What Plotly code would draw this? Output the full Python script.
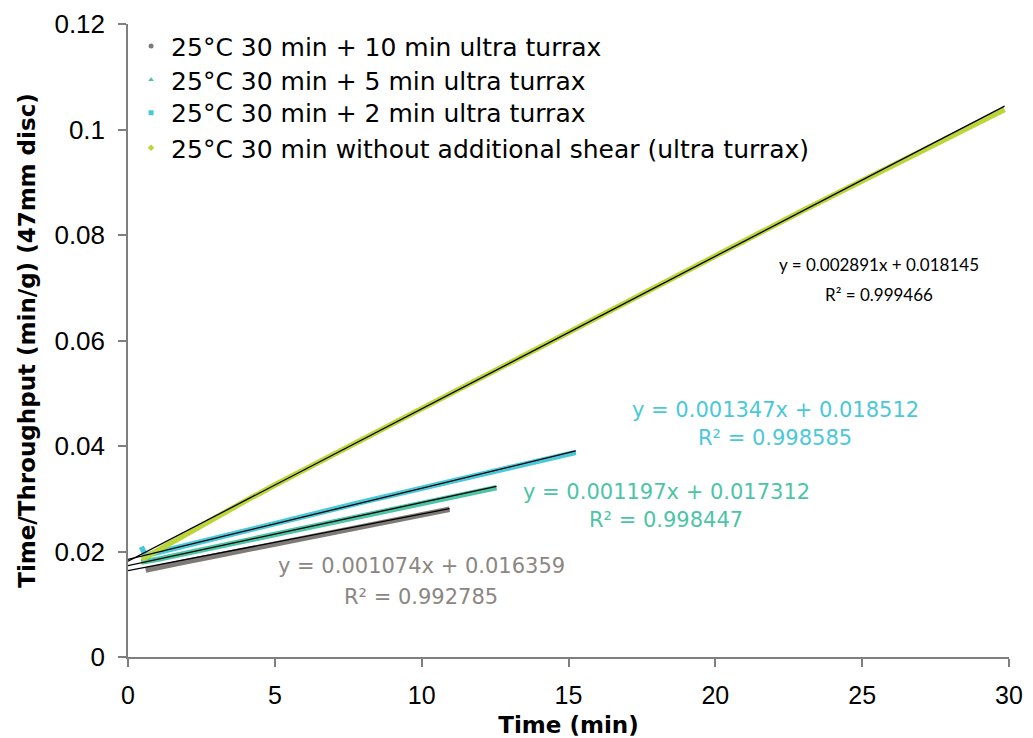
import plotly.graph_objects as go

# ---- data ----
names = [
    "25°C 30 min + 10 min ultra turrax",
    "25°C 30 min + 5 min ultra turrax",
    "25°C 30 min + 2 min ultra turrax",
    "25°C 30 min without additional shear (ultra turrax)",
]

x_10min = [0.6, 1, 2, 3, 4, 5, 6, 7, 8, 9, 10, 10.95]
y_10min = [0.0165, 0.0170, 0.0181, 0.0192, 0.0203, 0.0214, 0.0225, 0.0236, 0.0247, 0.0258, 0.0269, 0.0280]

x_5min = [0.45, 1, 2, 3, 4, 5, 6, 7, 8, 9, 10, 11, 12, 12.55]
y_5min = [0.0180, 0.0185, 0.0197, 0.0209, 0.0221, 0.0233, 0.0245, 0.0257, 0.0269, 0.0281, 0.0293, 0.0304, 0.0316, 0.0321]

x_2min = [0.45, 0.6, 1, 2, 3, 4, 5, 6, 7, 8, 9, 10, 11, 12, 13, 14, 15.25]
y_2min = [0.0209, 0.0193, 0.0198, 0.0212, 0.0226, 0.0240, 0.0254, 0.0267, 0.0280, 0.0294, 0.0307, 0.0320, 0.0334, 0.0347, 0.0360, 0.0374, 0.0388]

x_noshear = [0.47, 1, 2, 3, 4, 5, 6, 7, 8, 9, 10, 11, 12, 13, 14, 15, 16, 17, 18, 19, 20,
             21, 22, 23, 24, 25, 26, 27, 28, 29, 29.85]
y_noshear = [0.0185, 0.0202, 0.0234, 0.0265, 0.0296, 0.0326, 0.0355, 0.0385, 0.0414, 0.0443, 0.0472,
             0.0501, 0.0530, 0.0559, 0.0588, 0.0617, 0.0646, 0.0675, 0.0703, 0.0732, 0.0761,
             0.0790, 0.0818, 0.0847, 0.0875, 0.0903, 0.0931, 0.0960, 0.0988, 0.1016, 0.1038]

# trendline coefficients (slope, intercept, R²) as printed on the chart
slopes = [0.001074, 0.001197, 0.001347, 0.002891]
intercepts = [0.016359, 0.017312, 0.018512, 0.018145]
r2 = ["0.992785", "0.998447", "0.998585", "0.999466"]

x_ticks = [0, 5, 10, 15, 20, 25, 30]
y_ticks = [0, 0.02, 0.04, 0.06, 0.08, 0.1, 0.12]
y_tick_text = ["0", "0.02", "0.04", "0.06", "0.08", "0.1", "0.12"]

# ---- styling ----
colors = ["#7e7a77", "#4cc4a6", "#4ac8da", "#bcd63a"]
symbols = ["circle", "triangle-up", "square", "diamond"]
xs = [x_10min, x_5min, x_2min, x_noshear]
ys = [y_10min, y_5min, y_2min, y_noshear]
legend_ids = ["legend", "legend2", "legend3", "legend4"]
legend_y = [0.965, 0.9115, 0.8594, 0.804]   # paper positions of legend rows

fig = go.Figure()

for i in range(4):
    fig.add_trace(go.Scatter(x=xs[i], y=ys[i], mode="lines",
                             line=dict(color=colors[i], width=5.5),
                             showlegend=False, hoverinfo="x+y"))

for i in range(4):
    x_end = xs[i][-1]
    fig.add_trace(go.Scatter(x=[0, x_end],
                             y=[intercepts[i], slopes[i] * x_end + intercepts[i]],
                             mode="lines", line=dict(color="black", width=1.3),
                             showlegend=False, hoverinfo="skip"))

for i in range(4):
    fig.add_trace(go.Scatter(x=[None], y=[None], mode="markers", name=names[i],
                             legend=legend_ids[i],
                             marker=dict(color=colors[i], symbol=symbols[i], size=5)))

# equation labels: (paper x, paper y of line 1, paper y of line 2, font, size, colour)
eq_style = [
    (0.3326, 0.1437, 0.0947, "DejaVu Sans", 21, "#8c8682"),
    (0.6107, 0.2607, 0.2164, "DejaVu Sans", 21, "#4cc4a6"),
    (0.7344, 0.3902, 0.3460, "DejaVu Sans", 21, "#4ac8da"),
    (0.8530, 0.6193, 0.5719, "Lato", 17, "black"),
]
for i in range(4):
    px, py1, py2, fam, sz, col = eq_style[i]
    line1 = f"y = {slopes[i]:.6f}x + {intercepts[i]:.6f}"
    line2 = f"R² = {r2[i]}"
    for txt, py in ((line1, py1), (line2, py2)):
        fig.add_annotation(x=px, y=py, text=txt, showarrow=False,
                           xref="paper", yref="paper", xanchor="center", yanchor="middle",
                           font=dict(family=fam, size=sz, color=col))

axis_line = "#7f7f7f"
layout_legends = {}
for i in range(4):
    layout_legends[legend_ids[i]] = dict(
        x=0.0035, y=legend_y[i], xanchor="left", yanchor="middle",
        font=dict(size=25, family="DejaVu Sans"), bgcolor="rgba(0,0,0,0)",
        borderwidth=0)

fig.update_layout(
    width=1033, height=738,
    margin=dict(l=128, r=24, t=24, b=81, autoexpand=False),
    paper_bgcolor="white", plot_bgcolor="white",
    font=dict(family="Liberation Sans, Arial, sans-serif", color="black"),
    xaxis=dict(range=[0, 30], tickvals=x_ticks, showgrid=False, zeroline=False,
               showline=True, linecolor=axis_line, linewidth=1.5,
               ticks="outside", ticklen=8, tickcolor=axis_line, tickwidth=1.5,
               ticklabelstandoff=7, automargin=False,
               tickfont=dict(size=25),
               title=dict(text="<b>Time (min)</b>", standoff=10,
                          font=dict(size=23, family="DejaVu Sans"))),
    yaxis=dict(range=[0, 0.12], tickvals=y_ticks, ticktext=y_tick_text, showgrid=False,
               zeroline=False, showline=True, linecolor=axis_line, linewidth=1.5,
               ticks="outside", ticklen=8, tickcolor=axis_line, tickwidth=1.5,
               ticklabelstandoff=8, automargin=False,
               tickfont=dict(size=26),
               title=dict(text="<b>Time/Throughput (min/g) (47mm disc)</b>", standoff=12,
                          font=dict(size=23, family="DejaVu Sans"))),
    **layout_legends,
)

fig.write_html("out.html")
